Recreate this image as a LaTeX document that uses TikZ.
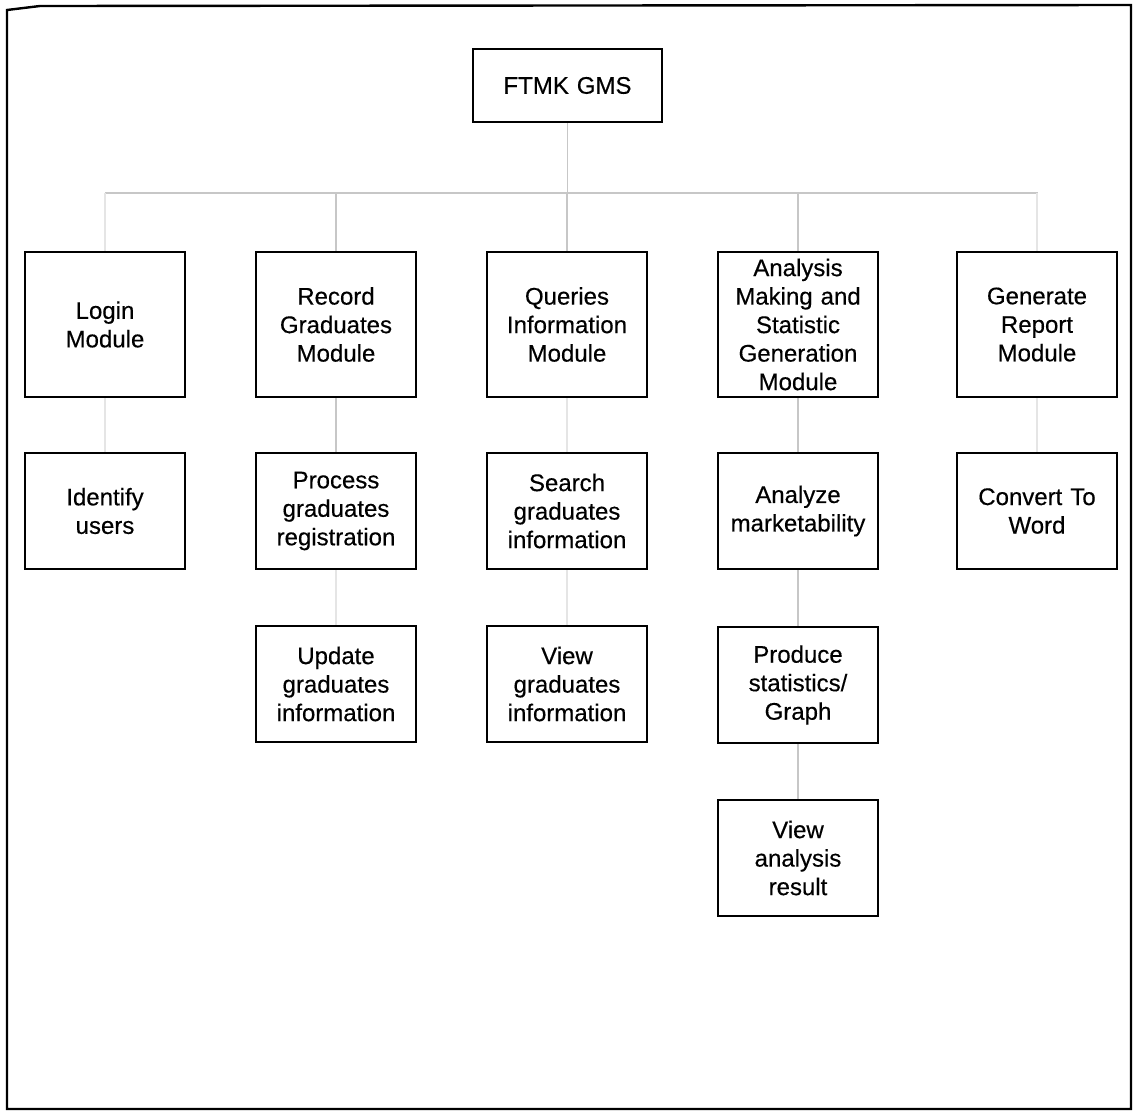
\documentclass[tikz,border=0pt]{standalone}
\usepackage{fontspec}
\setmainfont{Liberation Sans}
\newfontfamily\scanfont{Liberation Sans}[FakeBold=0.4]
\begin{document}
\begin{tikzpicture}[x=1pt,y=-1pt,
  box/.style={draw=black,line width=2.2pt,minimum width=160pt,minimum height=116pt,
    text width=154pt,inner sep=0pt,align=center,
    font=\scanfont\fontsize{24}{28.5}\selectfont},
  tallbox/.style={box,minimum height=145pt},
  conn/.style={draw=black!22,line width=1.6pt},
  faintconn/.style={draw=black!10,line width=1.6pt}]
\useasboundingbox (0,0) rectangle (1136,1114);
\draw[line width=2.4pt] (7,10) -- (40,6) -- (1131,5) -- (1131,1109) -- (7,1109) -- cycle;
% root
\node[box,minimum width=189pt,minimum height=73pt,text width=185pt] (root) at (567.5,85.5) {FTMK GMS};
% row 1
\node[tallbox] (login) at (105,324.5) {Login\\Module};
\node[tallbox] (record) at (336,324.5) {Record\\Graduates\\Module};
\node[tallbox] (query) at (567,324.5) {Queries\\Information\\Module};
\node[tallbox] (anal) at (798,324.5) {Analysis\\Making and\\Statistic\\Generation\\Module};
\node[tallbox] (gen) at (1037,324.5) {Generate\\Report\\Module};
% row 2
\node[box] (ident) at (105,511) {Identify\\users};
\node[box] (proc) at (336,511) {Process\\graduates\\registration};
\node[box] (search) at (567,511) {Search\\graduates\\information};
\node[box] (analyze) at (798,511) {Analyze\\marketability};
\node[box] (conv) at (1037,511) {Convert To\\Word};
% row 3
\node[box] (update) at (336,684) {Update\\graduates\\information};
\node[box] (viewg) at (567,684) {View\\graduates\\information};
\node[box] (prod) at (798,685) {Produce\\statistics/\\Graph};
% row 4
\node[box] (viewa) at (798,858) {View\\analysis\\result};
% connectors
\coordinate (hl) at (105,193);
\coordinate (hr) at (1038,193);
\draw[conn] (hl) -- (hr);
\draw[conn] (root.south) -- (root.south |- hl);
\foreach \n in {record,query,anal}
  \draw[conn] (\n.north |- hl) -- (\n.north);
\foreach \n in {login,gen}
  \draw[faintconn] (\n.north |- hl) -- (\n.north);
\draw[faintconn] (login) -- (ident);
\draw[conn] (record) -- (proc);
\draw[faintconn] (query) -- (search);
\draw[conn] (anal) -- (analyze);
\draw[faintconn] (gen) -- (conv);
\draw[faintconn] (proc) -- (update);
\draw[faintconn] (search) -- (viewg);
\draw[conn] (analyze) -- (prod);
\draw[conn] (prod) -- (viewa);
\end{tikzpicture}
\end{document}
